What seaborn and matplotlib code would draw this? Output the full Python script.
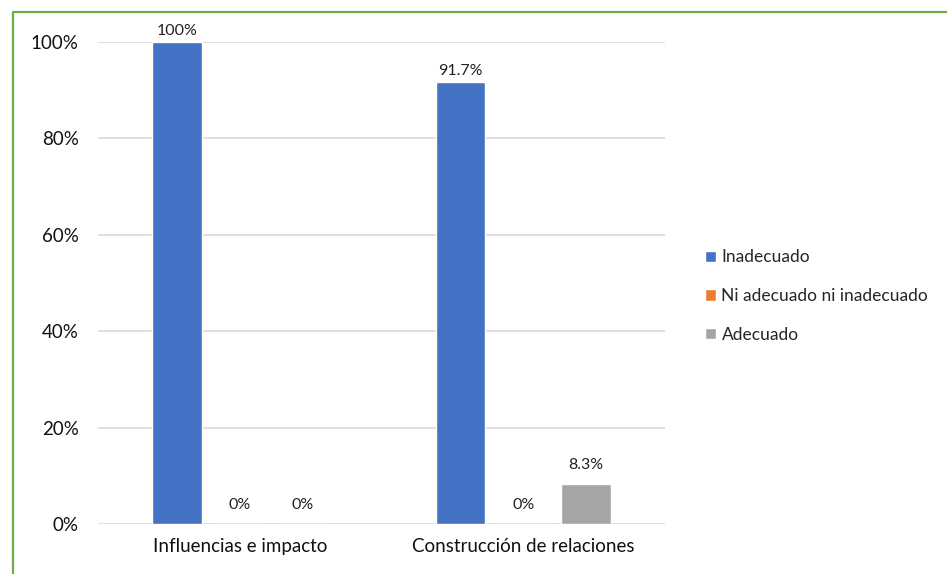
import matplotlib
matplotlib.use("Agg")
import matplotlib.pyplot as plt
import seaborn as sns
import pandas as pd
from matplotlib.lines import Line2D

categories = ["Influencias e impacto", "Construcción de relaciones"]
levels = ["Inadecuado", "Ni adecuado ni inadecuado", "Adecuado"]
inadecuado = [100, 91.7]
ni_adecuado = [0, 0]
adecuado = [0, 8.3]
value_labels = {"Inadecuado": ["100%", "91.7%"],
                "Ni adecuado ni inadecuado": ["0%", "0%"],
                "Adecuado": ["0%", "8.3%"]}
y_ticks = [0, 20, 40, 60, 80, 100]
y_ticklabels = ["0%", "20%", "40%", "60%", "80%", "100%"]
palette = ["#4472C4", "#ED7D31", "#A5A5A5"]

df = pd.DataFrame({
    "categoria": categories * 3,
    "nivel": [levels[0]] * 2 + [levels[1]] * 2 + [levels[2]] * 2,
    "valor": inadecuado + ni_adecuado + adecuado,
})

sns.set_theme(style="white")
plt.rcParams["font.family"] = ["Lato", "DejaVu Sans"]

W, H = 947, 574
fig = plt.figure(figsize=(W / 100, H / 100), dpi=100)
ax = fig.add_axes([98 / W, 1 - 524 / H, (665 - 98) / W, (524 - 42) / H])

sns.barplot(data=df, x="categoria", y="valor", hue="nivel", hue_order=levels,
            palette=palette, width=0.665, gap=0.21, saturation=1,
            ax=ax, legend=True)

ax.set_ylim(0, 100)
ax.set_xlim(-0.5, 1.5)
ax.set_yticks(y_ticks)
ax.set_yticklabels(y_ticklabels)
ax.set_xlabel("")
ax.set_ylabel("")
ax.yaxis.grid(True, color="#D9D9D9", linewidth=1.2)
ax.set_axisbelow(True)
for s in ax.spines.values():
    s.set_visible(False)
ax.tick_params(axis="both", length=0, labelsize=13.5, colors="#111111")
ax.tick_params(axis="y", pad=14)
ax.tick_params(axis="x", pad=10)

for container, lvl in zip(ax.containers, levels):
    for bar, txt in zip(container, value_labels[lvl]):
        h = bar.get_height()
        pad = 4 if h >= 90 else 12
        ax.annotate(txt, (bar.get_x() + bar.get_width() / 2, h),
                    xytext=(0, pad), textcoords="offset pixels",
                    ha="center", va="bottom", fontsize=11.5, color="#222222",
                    annotation_clip=False)

handles, labels = ax.get_legend_handles_labels()
ax.legend(handles, labels, loc="center left", bbox_to_anchor=(705 / W, 1 - 296 / H),
          bbox_transform=fig.transFigure, frameon=False, fontsize=12.5,
          handlelength=0.65, handleheight=0.65, handletextpad=0.3,
          labelspacing=1.3, borderpad=0, borderaxespad=0)

# Chart border along the top and left edges
y_top = 1 - 12 / H
x_left = 13 / W
fig.add_artist(Line2D([x_left, x_left, 1.0], [0.0, y_top, y_top],
                      transform=fig.transFigure, color="#70AD47", linewidth=1.6))

fig.savefig("out.png", dpi=100)
